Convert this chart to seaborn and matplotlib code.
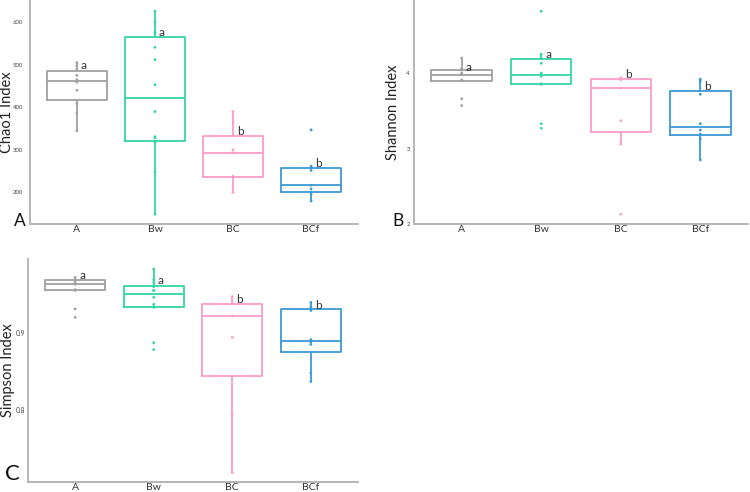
import numpy as np
import pandas as pd
import matplotlib
matplotlib.use("Agg")
import matplotlib.pyplot as plt
import seaborn as sns

# ---------------- data ----------------
groups = ["A", "Bw", "BC", "BCf"]
letters = ["a", "a", "b", "b"]

chao1_A = [345, 386, 409, 440, 459, 465, 475, 489, 498, 505]
chao1_Bw = [149, 249, 318, 320, 328, 331, 390, 453, 512, 541, 573, 577, 600, 626]
chao1_BC = [200, 236, 238, 293, 300, 363, 390]
chao1_BCf = [180, 196, 208, 217, 252, 262, 347]

shannon_A = [3.57, 3.66, 3.90, 3.91, 3.98, 4.00, 4.04, 4.06, 4.20]
shannon_Bw = [3.27, 3.33, 3.85, 3.86, 3.96, 4.00, 4.13, 4.20, 4.25, 4.82]
shannon_BC = [2.13, 3.06, 3.37, 3.80, 3.91, 3.93, 3.94]
shannon_BCf = [2.85, 3.13, 3.19, 3.245, 3.33, 3.72, 3.89, 3.92]

simpson_A = [0.921, 0.932, 0.956, 0.957, 0.964, 0.966, 0.969, 0.970, 0.973]
simpson_Bw = [0.879, 0.888, 0.934, 0.935, 0.938, 0.947, 0.956, 0.956, 0.961, 0.966, 0.970, 0.984]
simpson_BC = [0.7188, 0.795, 0.8948, 0.9226, 0.939, 0.939, 0.948]
simpson_BCf = [0.8374, 0.8483, 0.8857, 0.889, 0.892, 0.930, 0.935, 0.9404]

chao1_letter_y = [499, 576, 344, 267]
shannon_letter_y = [4.08, 4.25, 3.98, 3.82]
simpson_letter_y = [0.975, 0.9686, 0.9447, 0.937]

chao1_ticks = [200, 300, 400, 500, 600]
shannon_ticks = [2, 3, 4]
simpson_ticks = [0.8, 0.9]
simpson_ticklabels = ["0.8", "0.9"]

palette = {"A": "#a0a0a0", "Bw": "#33d6a2", "BC": "#fb9ccb", "BCf": "#3a98d6"}

# ---------------- style ----------------
sns.set_theme(style="white")
plt.rcParams["font.family"] = ["Lato", "DejaVu Sans"]

W, H = 750, 492
fig = plt.figure(figsize=(7.5, 4.92), dpi=100)


def px_axes(left, top, right, bottom):
    return fig.add_axes([left / W, 1 - bottom / H, (right - left) / W, (bottom - top) / H])


def make_df(vals):
    rows = []
    for g, v in zip(groups, vals):
        rows += [(g, x) for x in v]
    return pd.DataFrame(rows, columns=["group", "value"])


def panel(ax, vals, ylabel, ylim, ticks, ticklabels, letter_y, label_x, tsize, tpad):
    df = make_df(vals)
    sns.boxplot(data=df, x="group", y="value", hue="group", order=groups,
                hue_order=groups, palette=palette, fill=False, width=0.76,
                showfliers=False, showcaps=False, linewidth=1.3, legend=False,
                whis=1.5, ax=ax)
    sns.stripplot(data=df, x="group", y="value", hue="group", order=groups,
                  hue_order=groups, palette=palette, jitter=False, size=2.0,
                  legend=False, ax=ax, zorder=3)
    for i, (l, y) in enumerate(zip(letters, letter_y)):
        ax.text(i + 0.05, y, l, ha="left", va="center", fontsize=8.5, color="#333333")
    ax.set_xlim(-0.6, 3.6)
    ax.set_ylim(*ylim)
    ax.set_yticks(ticks)
    ax.set_yticklabels(ticklabels)
    ax.set_xlabel("")
    ax.set_ylabel(ylabel, fontsize=10.5, color="#222222")
    ax.yaxis.set_label_coords(label_x, 0.5)
    ax.tick_params(axis="y", length=0, labelsize=tsize, labelcolor="#444444", pad=tpad)
    ax.tick_params(axis="x", length=0, labelsize=7.5, labelcolor="#333333", pad=1)
    for s in ["top", "right"]:
        ax.spines[s].set_visible(False)
    for s in ["left", "bottom"]:
        ax.spines[s].set_color("#b5b5b5")
        ax.spines[s].set_linewidth(1.4)


ax1 = px_axes(30, 0, 358, 224)
panel(ax1, [chao1_A, chao1_Bw, chao1_BC, chao1_BCf], "Chao1 Index", (126, 652),
      chao1_ticks, [str(t) for t in chao1_ticks], chao1_letter_y, -0.05, 4.3, 5)

ax2 = px_axes(414, 0, 748, 224)
panel(ax2, [shannon_A, shannon_Bw, shannon_BC, shannon_BCf], "Shannon Index", (2.0, 4.97),
      shannon_ticks, [str(t) for t in shannon_ticks], shannon_letter_y, -0.042, 4.3, 3)

ax3 = px_axes(28, 259, 358, 482)
panel(ax3, [simpson_A, simpson_Bw, simpson_BC, simpson_BCf], "Simpson Index", (0.7065, 0.997),
      simpson_ticks, simpson_ticklabels, simpson_letter_y, -0.039, 4.8, 2)

fig.text(20 / W, 1 - 221 / H, "A", fontsize=12.5, ha="center", va="center", color="#111111")
fig.text(398 / W, 1 - 221 / H, "B", fontsize=12.5, ha="center", va="center", color="#111111")
fig.text(12 / W, 1 - 474 / H, "C", fontsize=16, ha="center", va="center", color="#111111")

fig.savefig("out.png", dpi=100)
